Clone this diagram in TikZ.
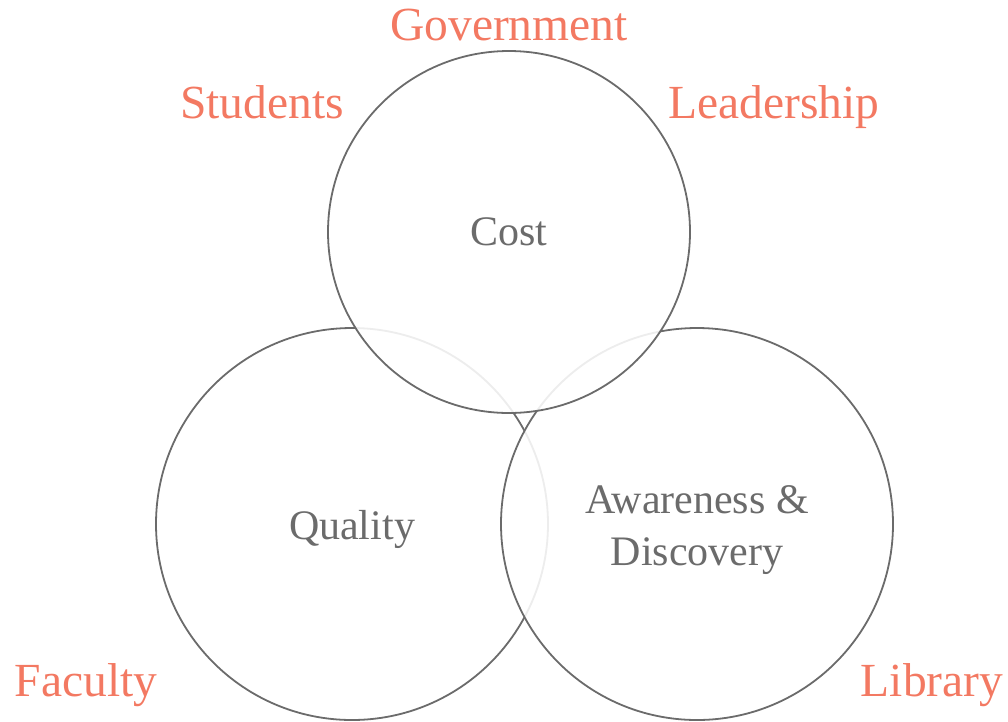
\documentclass[tikz,border=0pt]{standalone}
\usepackage{fontspec}
\setmainfont{Liberation Serif}

\definecolor{ringgray}{HTML}{6B6B6B}
\definecolor{salmon}{RGB}{243,121,98}

\begin{document}
\begin{tikzpicture}[
    x=1pt, y=-1pt,
    ring/.style={circle, draw=ringgray, line width=1.8pt, fill=white, fill opacity=0.88,
      text opacity=1, text=ringgray, inner sep=0pt, align=center,
      font=\fontsize{42}{52}\selectfont},
    actor/.style={anchor=base, text=salmon, inner sep=0pt,
      font=\fontsize{47.5}{54}\selectfont},
]
\useasboundingbox (0,0) rectangle (1008,721);
% the three circles, bottom to top
\node[ring, minimum size=392pt] (quality) at (352,524) {\raisebox{-15pt}[0pt][0pt]{Quality}};
\node[ring, minimum size=392pt] (aware) at (697,524)
  {\raisebox{-11pt}[0pt][0pt]{\begin{tabular}{@{}c@{}}Awareness \&\\Discovery\end{tabular}}};
\node[ring, minimum size=362pt] (cost) at (509,232) {Cost};
% stakeholders
\node[actor] (gov) at (509,40) {Government};
\node[actor] (students) at (262,118) {Students};
\node[actor] (leader) at (774,118) {Leadership};
\node[actor] (faculty) at (86,696) {Faculty};
\node[actor] (library) at (932,696) {Library};
\end{tikzpicture}
\end{document}
